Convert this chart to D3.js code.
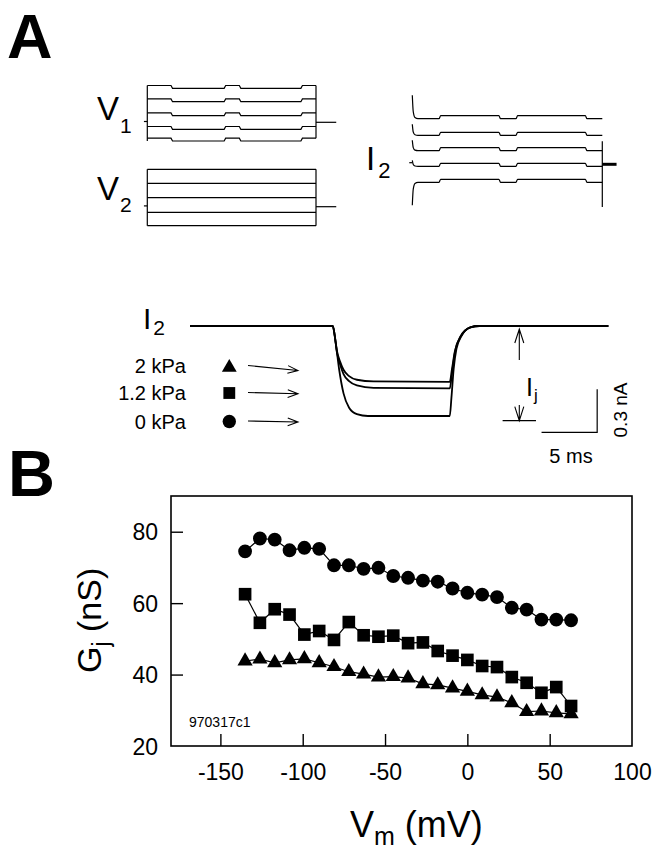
<!DOCTYPE html>
<html><head><meta charset="utf-8">
<script src="https://cdn.jsdelivr.net/npm/d3@7"></script>
<style>
body{margin:0;background:#fff}
svg{display:block}
text{font-family:"Liberation Sans",Arial,Helvetica,sans-serif;fill:#000}
</style>
</head><body>
<svg id="c" width="656" height="853"></svg>
<script>
// ===================== Panel B data =====================
const vm = [-135,-126,-117,-108,-99,-90,-81,-72,-63,-54,-45,-36,-27,-18,-9,0,9,18,27,36,45,54,63];
const gj0kPa  = [74.5,78.1,77.8,74.8,75.5,75.2,70.6,70.6,69.6,69.9,67.6,67.1,66.3,66.0,64.1,62.9,62.4,61.7,58.7,58.2,55.4,55.4,55.2];
const gj12kPa = [62.5,54.5,58.3,56.8,51.2,52.2,49.7,54.7,51.0,50.6,50.9,48.8,49.0,46.6,45.3,44.1,42.4,42.1,39.3,37.7,34.9,36.5,31.2];
const gj2kPa  = [43.8,44.3,43.3,44.1,44.4,43.3,42.2,40.8,40.1,39.3,39.4,39.0,37.4,37.1,36.2,35.3,34.3,33.7,32.1,29.6,29.8,29.3,29.0];
const xTickVals = [-150,-100,-50,0,50,100];
const yTickVals = [20,40,60,80];
const xDomain = [-180,100];
const yDomain = [20,90];
const recordingId = "970317c1";

// ===================== Panel A data =====================
// voltage protocol (arbitrary time units 0..100, levels relative to holding)
const protoEnd = 100, holdEnd = 112;
const pulseWindows = [[0,14.5],[46,55],[91.5,100]];
const pulseAmp = 2.8;
const v1Levels = [34,20.6,6.6,-7,-18.7];
const v2Levels = [37.4,23.4,9,-5.6,-19];
// I2 family (levels of non-dipped segments, relative to holding)
const i2Levels = [48.6,32,16.6,1,-15];
const i2OnSpikes = [69,40,24,4,-41];
const i2OffRange = [23,-42.7];
const i2Dip = 3;
// junctional current traces (time ms, current nA)
const traceLabels = ["2 kPa","1.2 kPa","0 kPa"];
const trace2kPa = [[0,0],[12.83,0],[13.0,-0.06],[13.2,-0.17],[13.5,-0.25],[13.8,-0.305],[14.3,-0.35],[15.0,-0.375],[16.5,-0.387],[23.35,-0.39],[23.55,-0.3],[23.8,-0.18],[24.3,-0.075],[25.2,-0.01],[26,0],[37.6,0]];
const trace12kPa = [[0,0],[12.83,0],[13.0,-0.065],[13.2,-0.18],[13.5,-0.27],[13.8,-0.335],[14.3,-0.385],[15.0,-0.415],[16.5,-0.432],[23.35,-0.435],[23.55,-0.33],[23.8,-0.19],[24.3,-0.078],[25.2,-0.01],[26,0],[37.6,0]];
const trace0kPa = [[0,0],[12.83,0],[13.1,-0.12],[13.4,-0.3],[13.8,-0.47],[14.3,-0.57],[15.0,-0.615],[16.0,-0.628],[23.35,-0.628],[23.5,-0.5],[23.7,-0.3],[23.95,-0.16],[24.4,-0.07],[25.2,-0.01],[26,0],[37.6,0]];
const ijTime = 29.6, ijAmp = -0.66;
const scaleBarMs = 5, scaleBarNA = 0.3, scaleBarCorner = [36.6,-0.742];

const svg = d3.select("#c");

// ===================== Panel letters =====================
svg.append("text").attr("x",7).attr("y",58).attr("font-size",63).attr("font-weight","bold").text("A");
svg.append("text").attr("x",8).attr("y",496).attr("font-size",65).attr("font-weight","bold").text("B");

function subLabel(g,x,y,main,sub,fs,sfs,subDx,subDy){
  const t=g.append("text").attr("x",x).attr("y",y).attr("font-size",fs);
  t.append("tspan").text(main);
  t.append("tspan").attr("font-size",sfs).attr("dx",subDx).attr("dy",subDy).text(sub);
  return t;
}

// ===================== V1 / V2 protocol =====================
const gA = svg.append("g").attr("fill","none").attr("stroke","#000").attr("stroke-width",1.2);
const xV = d3.scaleLinear().domain([0,protoEnd]).range([147.3,316]);
const yV1 = d3.scaleLinear().domain([0,10]).range([122.3,112.3]);
const yV2 = d3.scaleLinear().domain([0,10]).range([206.7,196.7]);
const lineV1 = d3.line().x(d=>xV(d[0])).y(d=>yV1(d[1]));
const lineV2 = d3.line().x(d=>xV(d[0])).y(d=>yV2(d[1]));

function pulsed(L, amp, sign){
  const pts=[];
  const e=0.9;
  pulseWindows.forEach((w,i)=>{
    if(w[0]===0){ pts.push([0,L+sign*amp]); }
    else { pts.push([w[0]-e/2,L]); pts.push([w[0]+e/2,L+sign*amp]); }
    if(w[1]===protoEnd){ pts.push([protoEnd,L+sign*amp]); }
    else { pts.push([w[1]-e/2,L+sign*amp]); pts.push([w[1]+e/2,L]); }
  });
  return pts;
}
v1Levels.forEach(L=>gA.append("path").attr("d",lineV1(pulsed(L,pulseAmp,1))));
gA.append("path").attr("d",lineV1([[0,d3.max(v1Levels)+pulseAmp],[0,d3.min(v1Levels)]]));
gA.append("path").attr("d",lineV1([[protoEnd,d3.max(v1Levels)+pulseAmp],[protoEnd,d3.min(v1Levels)+pulseAmp]]));
gA.append("path").attr("d",lineV1([[protoEnd,0],[holdEnd,0]]));
gA.append("path").attr("d",lineV1([[-2,0.8],[0,0.8]]));

v2Levels.forEach(L=>gA.append("path").attr("d",lineV2([[0,L],[protoEnd,L]])));
gA.append("path").attr("d",lineV2([[0,d3.max(v2Levels)],[0,d3.min(v2Levels)]]));
gA.append("path").attr("d",lineV2([[protoEnd,d3.max(v2Levels)],[protoEnd,d3.min(v2Levels)]]));
gA.append("path").attr("d",lineV2([[protoEnd,0],[holdEnd,0]]));
gA.append("path").attr("d",lineV2([[-2,0.8],[0,0.8]]));

subLabel(svg,97,120,"V","1",33,21,1,13);
subLabel(svg,97,200,"V","2",33,21,1,12);

// ===================== I2 family =====================
const xI = d3.scaleLinear().domain([0,protoEnd]).range([412.3,602.3]);
const yI = d3.scaleLinear().domain([0,10]).range([164.3,154.3]);
const lineI = d3.line().x(d=>xI(d[0])).y(d=>yI(d[1])).curve(d3.curveMonotoneX);
const lineIs = d3.line().x(d=>xI(d[0])).y(d=>yI(d[1]));
i2Levels.forEach((L,k)=>{
  const lo=L-i2Dip;
  const pts=[[0,i2OnSpikes[k]],[0.5,lo+(i2OnSpikes[k]-lo)*0.3],[1.4,lo+(i2OnSpikes[k]-lo)*0.05],[3,lo]];
  const body=pulsed(L,i2Dip,-1).filter(p=>p[0]>3);
  gA.append("path").attr("d",lineI(pts.concat(body)));
});
gA.append("path").attr("d",lineIs([[protoEnd,i2OffRange[0]],[protoEnd,i2OffRange[1]]]));
gA.append("path").attr("stroke-width",3).attr("d",lineIs([[protoEnd,0],[protoEnd+7.5,0]]));
gA.append("path").attr("d",lineIs([[-1.6,1.6],[0,1.6]]));
subLabel(svg,366,170,"I","2",33,22,3,8);

// ===================== junctional current traces =====================
const xT = d3.scaleLinear().domain([0,37.6]).range([190,608.3]);
const yT = d3.scaleLinear().domain([0,-0.3]).range([326,369]);
const lineT = d3.line().x(d=>xT(d[0])).y(d=>yT(d[1])).curve(d3.curveMonotoneX);
[trace2kPa,trace12kPa,trace0kPa].forEach(tr=>{
  gA.append("path").attr("stroke-width",1.8).attr("d",lineT(tr));
});
subLabel(svg,143,329,"I","2",30,21,2,6);

// legend rows
const legSymbols = [d3.symbolTriangle,d3.symbolSquare,d3.symbolCircle];
const legSizes = [95,140,140];
const legY = [366,393,421.5];
const legArrowDY = [5,1.3,1];
traceLabels.forEach((lab,i)=>{
  svg.append("text").attr("x",186).attr("y",legY[i]+7).attr("font-size",20).attr("text-anchor","end").text(lab);
  svg.append("path").attr("transform",`translate(229.3,${legY[i]+(i===0?1.5:0)})`).attr("d",d3.symbol(legSymbols[i],legSizes[i])()).attr("fill","#000");
  const x0=248, x1=298, y0=legY[i]-0.5, y1=legY[i]-0.5+legArrowDY[i];
  const ang=Math.atan2(y1-y0,x1-x0);
  const hl=11, hw=0.36;
  gA.append("path").attr("stroke-width",1.1).attr("d",`M${x0},${y0}L${x1},${y1}M${x1-hl*Math.cos(ang-hw)},${y1-hl*Math.sin(ang-hw)}L${x1},${y1}L${x1-hl*Math.cos(ang+hw)},${y1-hl*Math.sin(ang+hw)}`);
});

// Ij annotation
const xa=xT(ijTime), yTop=yT(0)+3, yBot=yT(ijAmp);
gA.append("path").attr("stroke-width",1.1).attr("d",`M${xa},${yTop}L${xa},360M${xa-4.5},${yTop+14}L${xa},${yTop}L${xa+4.5},${yTop+14}`);
gA.append("path").attr("stroke-width",1.1).attr("d",`M${xa},405L${xa},${yBot}M${xa-4.5},${yBot-14}L${xa},${yBot}L${xa+4.5},${yBot-14}`);
gA.append("path").attr("stroke-width",1.2).attr("d",`M${xT(ijTime-1.5)},${yBot}L${xT(ijTime+1.5)},${yBot}`);
subLabel(svg,526,396,"I","j",25,17,1,5);

// scale bar
const cx=xT(scaleBarCorner[0]), cy=yT(scaleBarCorner[1]);
gA.append("path").attr("stroke-width",1.2).attr("d",`M${xT(scaleBarCorner[0]-scaleBarMs)},${cy}L${cx},${cy}L${cx},${yT(scaleBarCorner[1]+scaleBarNA)}`);
svg.append("text").attr("x",571).attr("y",463).attr("font-size",20).attr("text-anchor","middle").text(scaleBarMs+" ms");
svg.append("text").attr("transform","translate(627,410) rotate(-90)").attr("font-size",19).attr("text-anchor","middle").text(scaleBarNA+" nA");

// ===================== Panel B chart =====================
const L=171, R=632, T=496, B=746;
const x = d3.scaleLinear().domain(xDomain).range([L,R]);
const y = d3.scaleLinear().domain(yDomain).range([B,T]);
const gB = svg.append("g");
gB.append("rect").attr("x",L).attr("y",T).attr("width",R-L).attr("height",B-T).attr("fill","none").attr("stroke","#000").attr("stroke-width",1.6);

const xAxis = d3.axisBottom(x).tickValues(xTickVals).tickSize(0).tickPadding(0).tickFormat(d3.format("d"));
const gx = gB.append("g").attr("transform",`translate(0,${B})`).call(xAxis);
gx.select(".domain").remove();
gx.selectAll("text").attr("font-size",23).attr("y",34).attr("dy",0).attr("font-family","Liberation Sans, Arial, sans-serif").text(d=>d<0?"-"+Math.abs(d):d);
gx.selectAll(".tick").filter(d=>d>xDomain[0]&&d<xDomain[1]).append("line").attr("y1",0).attr("y2",-12).attr("stroke","#000").attr("stroke-width",1.4);

const yAxis = d3.axisLeft(y).tickValues(yTickVals).tickSize(0).tickPadding(0);
const gy = gB.append("g").attr("transform",`translate(${L},0)`).call(yAxis);
gy.select(".domain").remove();
gy.selectAll("text").attr("font-size",23).attr("x",-13).attr("dy","0.36em").attr("font-family","Liberation Sans, Arial, sans-serif");
gy.selectAll(".tick").filter(d=>d>yDomain[0]&&d<yDomain[1]).append("line").attr("x1",0).attr("x2",12).attr("stroke","#000").attr("stroke-width",1.4);

const series = [
  {vals:gj0kPa, sym:d3.symbolCircle, size:150},
  {vals:gj12kPa, sym:d3.symbolSquare, size:160},
  {vals:gj2kPa, sym:d3.symbolTriangle, size:100}
];
const ln = d3.line().x((d,i)=>x(vm[i])).y(d=>y(d));
series.forEach(s=>{
  gB.append("path").attr("d",ln(s.vals)).attr("fill","none").attr("stroke","#000").attr("stroke-width",1.2);
  gB.selectAll(null).data(s.vals).enter().append("path")
    .attr("transform",(d,i)=>`translate(${x(vm[i])},${y(d)})`)
    .attr("d",d3.symbol(s.sym,s.size)()).attr("fill","#000");
});

gB.append("text").attr("x",189).attr("y",727).attr("font-size",14).text(recordingId);

// axis titles
const xt = gB.append("text").attr("x",350).attr("y",837).attr("font-size",36);
xt.append("tspan").text("V");
xt.append("tspan").attr("font-size",25).attr("dy",8).text("m");
xt.append("tspan").attr("dy",-8).text(" (mV)");

const yt = gB.append("text").attr("transform","translate(101,673) rotate(-90)").attr("font-size",34);
yt.append("tspan").text("G");
yt.append("tspan").attr("font-size",23).attr("dy",8).text("j");
yt.append("tspan").attr("dy",-8).text(" (nS)");
</script>
</body></html>
